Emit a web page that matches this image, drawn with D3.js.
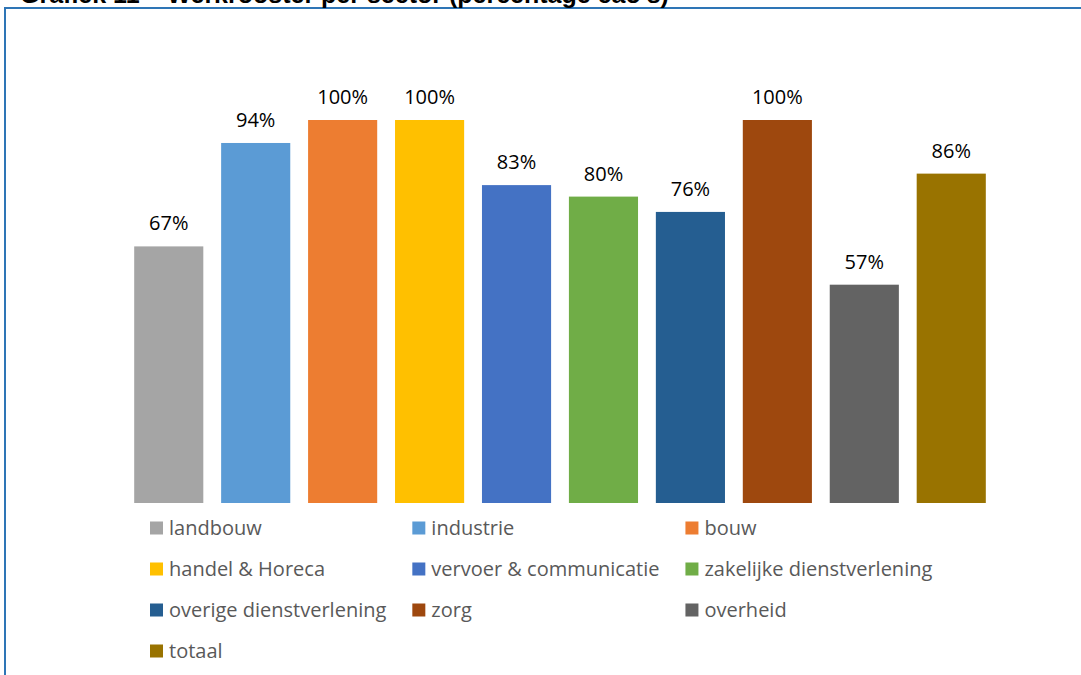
<!DOCTYPE html>
<html>
<head>
<meta charset="utf-8">
<script src="https://cdn.jsdelivr.net/npm/d3@7"></script>
<style>
  html, body { margin: 0; padding: 0; background: #ffffff; }
  svg { display: block; }
</style>
</head>
<body>
<svg id="chart" width="1081" height="675"></svg>
<script>
// Sectors, their share of collective agreements with a work-roster clause, and bar colours
const sectors = [
  "landbouw", "industrie", "bouw", "handel & Horeca", "vervoer & communicatie",
  "zakelijke dienstverlening", "overige dienstverlening", "zorg", "overheid", "totaal"
];
const shares = [0.67, 0.94, 1.00, 1.00, 0.83, 0.80, 0.76, 1.00, 0.57, 0.86];
const colors = [
  "#A5A5A5", "#5B9BD5", "#ED7D31", "#FFC000", "#4472C4",
  "#70AD47", "#255E91", "#9E480E", "#636363", "#997300"
];
const titleText = "Grafiek 11 \u2013 Werkrooster per sector (percentage cao\u2019s)";

const svg = d3.select("#chart");
const W = 1081, H = 675;

// Frame: blue rule along the top and left edge
svg.append("line")
  .attr("x1", 5).attr("x2", W).attr("y1", 8).attr("y2", 8)
  .attr("stroke", "#2E75B6").attr("stroke-width", 2);
svg.append("line")
  .attr("x1", 5).attr("x2", 5).attr("y1", 7).attr("y2", H)
  .attr("stroke", "#2E75B6").attr("stroke-width", 2);

// Title runs above the frame, its upper part outside the page
svg.append("text")
  .attr("x", 20).attr("y", 3)
  .attr("font-family", "Liberation Sans, Arial, sans-serif")
  .attr("font-weight", "bold")
  .attr("font-size", 25)
  .attr("fill", "#000")
  .text(titleText);

// Scales
const x = d3.scaleBand()
  .domain(sectors)
  .range([125.5, 994.5])
  .paddingInner(0.205)
  .paddingOuter(0.1);
const y = d3.scaleLinear().domain([0, 1]).range([503, 120]);

const data = sectors.map((s, i) => ({ sector: s, value: shares[i], color: colors[i] }));

// Bars
svg.append("g").selectAll("rect")
  .data(data)
  .join("rect")
  .attr("x", d => x(d.sector))
  .attr("width", x.bandwidth())
  .attr("y", d => y(d.value))
  .attr("height", d => y(0) - y(d.value))
  .attr("fill", d => d.color);

// Value labels above each bar
const pct = d3.format(".0%");
svg.append("g").selectAll("text")
  .data(data)
  .join("text")
  .attr("x", d => x(d.sector) + x.bandwidth() / 2)
  .attr("y", d => y(d.value) - 16)
  .attr("text-anchor", "middle")
  .attr("font-family", "Open Sans, sans-serif")
  .attr("font-size", 20)
  .attr("fill", "#000")
  .text(d => pct(d.value));

// Legend: three columns, column width set by the widest entry in it
const nCols = 3;
const rowStep = 41;
const legendX0 = 150, legendY0 = 528;
const swatch = 13, swatchGap = 6, colPad = 26;
const legendFont = { family: "Open Sans, sans-serif", size: 20 };

const legend = svg.append("g");
const items = legend.selectAll("g")
  .data(data)
  .join("g");

items.append("rect")
  .attr("width", swatch).attr("height", swatch)
  .attr("y", -swatch / 2)
  .attr("fill", d => d.color);

items.append("text")
  .attr("x", swatch + swatchGap)
  .attr("y", 0)
  .attr("dy", "0.35em")
  .attr("font-family", legendFont.family)
  .attr("font-size", legendFont.size)
  .attr("fill", "#595959")
  .text(d => d.sector);

// Measure text widths per column to lay out the columns
const widths = new Array(nCols).fill(0);
items.each(function(d, i) {
  const w = d3.select(this).select("text").node().getComputedTextLength();
  const c = i % nCols;
  widths[c] = Math.max(widths[c], swatch + swatchGap + w + colPad);
});
const colX = [legendX0];
for (let c = 1; c < nCols; c++) colX.push(colX[c - 1] + widths[c - 1]);

items.attr("transform", (d, i) =>
  `translate(${colX[i % nCols]},${legendY0 + Math.floor(i / nCols) * rowStep})`);
</script>
</body>
</html>
